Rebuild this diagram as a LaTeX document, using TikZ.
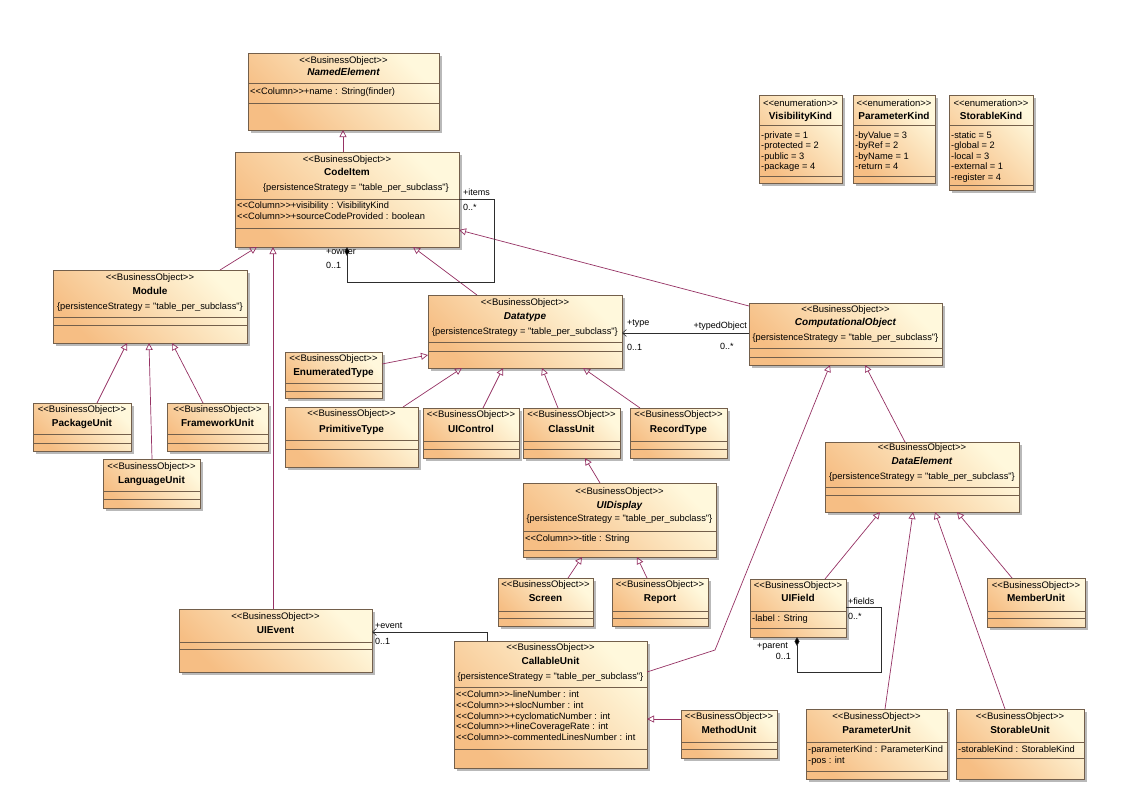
\documentclass[tikz,border=0pt]{standalone}
\usepackage{fontspec}
\setmainfont{Liberation Sans}[Ligatures=TeXOff]
\usetikzlibrary{arrows.meta}
\definecolor{boxL}{RGB}{246,190,132}
\definecolor{boxR}{RGB}{255,248,220}
\definecolor{bord}{RGB}{115,95,75}
\definecolor{shad}{RGB}{185,185,185}
\definecolor{genc}{RGB}{150,50,100}
\definecolor{assc}{RGB}{45,45,45}
\newcommand\BO{<<BusinessObject>>}
\newcommand\EN{<<enumeration>>}
\newcommand\PS{\{persistenceStrategy = "table\_per\_subclass"\}}
\newcommand\COL{<<Column>>}
\newcommand\cls[5]{%
  \fill[shad] ({#2+3},{#3+3}) rectangle ({#4+3},{#5+3});
  \pgfmathsetmacro\cx{(#2+#4)/2}%
  \pgfmathsetmacro\xl{#2+2}%
  \def\xa{#2}\def\xb{#4}%
  \node[clsbox, minimum width={(#4-#2)*1pt}, minimum height={(#5-#3)*1pt}] (#1) at (\cx,{(#3+#5)/2}) {};
}
\newcommand\sep[1]{\draw[sepl] (\xa,#1) -- (\xb,#1);}
\newcommand\ctext[4]{\node[#2] (#1) at (\cx,#3) {#4};}
\newcommand\ltext[3]{\node[attr] (#1) at (\xl,#2) {#3};}
\newcommand\hd[5]{% box, ys, yn, name, style
  \ctext{#1-s}{st}{#2}{\BO}\ctext{#1-n}{#5}{#3}{#4}}
\newcommand\at[3]{([xshift=#2pt,yshift=-#3pt]#1.north west)}
\begin{document}
\begin{tikzpicture}[x=1pt,y=-1pt,
  clsbox/.style={rectangle, draw=bord, line width=0.6pt, top color=boxR, bottom color=boxL, shading angle=-45, inner sep=0pt, outer sep=0pt},
  sepl/.style={draw=bord, line width=0.5pt},
  st/.style={font=\fontsize{9.5}{10}\selectfont, inner sep=0pt, anchor=mid},
  cst/.style={font=\fontsize{9.3}{10}\selectfont, inner sep=0pt, anchor=mid},
  nm/.style={font=\fontsize{10}{11}\selectfont\bfseries, inner sep=0pt, anchor=mid},
  nmi/.style={font=\fontsize{10}{11}\selectfont\bfseries\itshape, inner sep=0pt, anchor=mid},
  attr/.style={font=\fontsize{9.3}{10}\selectfont, inner sep=0pt, anchor=mid west},
  lab/.style={font=\fontsize{9}{10}\selectfont, inner sep=0pt, anchor=mid west},
  labr/.style={font=\fontsize{9}{10}\selectfont, inner sep=0pt, anchor=mid east},
  gen/.style={draw=genc, line width=0.7pt, -{Triangle[open, length=7pt, width=7pt]}},
  asc/.style={draw=assc, line width=0.6pt},
  nav/.style={-{Straight Barb[length=4pt, width=7pt]}},
  comp/.style={{Diamond[length=9pt, width=5pt, fill=black]}-}
]
\fill[white] (0,0) rectangle (1122,798);
\useasboundingbox (0,0) rectangle (1122,798);

% NamedElement
\cls{NamedElement}{248}{53}{439}{130}
\hd{NamedElement}{61}{73}{NamedElement}{nmi}
\sep{83}
\ltext{NamedElement-a1}{92}{\COL+name : String(finder)}
\sep{103}

% CodeItem
\cls{CodeItem}{235}{152}{459}{247}
\hd{CodeItem}{160}{173}{CodeItem}{nm}
\node[cst] (CodeItem-c) at (356,188) {\PS};
\sep{199}
\ltext{CodeItem-a1}{206}{\COL+visibility : VisibilityKind}
\ltext{CodeItem-a2}{217}{\COL+sourceCodeProvided : boolean}
\sep{228}

% Enumerations
\cls{VisibilityKind}{759}{95}{842}{183}
\ctext{VisibilityKind-s}{st}{104}{\EN}
\ctext{VisibilityKind-n}{nm}{117}{VisibilityKind}
\sep{125}
\ltext{VisibilityKind-a1}{136}{-private = 1}
\ltext{VisibilityKind-a2}{146}{-protected = 2}
\ltext{VisibilityKind-a3}{157}{-public = 3}
\ltext{VisibilityKind-a4}{167}{-package = 4}
\sep{176}

\cls{ParameterKind}{853}{95}{935}{183}
\ctext{ParameterKind-s}{st}{104}{\EN}
\ctext{ParameterKind-n}{nm}{117}{ParameterKind}
\sep{125}
\ltext{ParameterKind-a1}{136}{-byValue = 3}
\ltext{ParameterKind-a2}{146}{-byRef = 2}
\ltext{ParameterKind-a3}{157}{-byName = 1}
\ltext{ParameterKind-a4}{167}{-return = 4}
\sep{176}

\cls{StorableKind}{949}{95}{1033}{190}
\ctext{StorableKind-s}{st}{104}{\EN}
\ctext{StorableKind-n}{nm}{117}{StorableKind}
\sep{125}
\ltext{StorableKind-a1}{136}{-static = 5}
\ltext{StorableKind-a2}{146}{-global = 2}
\ltext{StorableKind-a3}{157}{-local = 3}
\ltext{StorableKind-a4}{167}{-external = 1}
\ltext{StorableKind-a5}{178}{-register = 4}
\sep{185}

% Module and children
\cls{Module}{53}{270}{247}{343}
\hd{Module}{278}{292}{Module}{nm}
\ctext{Module-c}{cst}{307}{\PS}
\sep{317}\sep{325}

\cls{PackageUnit}{33}{403}{131}{451}
\hd{PackageUnit}{410}{424}{PackageUnit}{nm}
\sep{434}\sep{443}

\cls{FrameworkUnit}{167}{403}{268}{451}
\hd{FrameworkUnit}{410}{424}{FrameworkUnit}{nm}
\sep{434}\sep{443}

\cls{LanguageUnit}{103}{459}{200}{508}
\hd{LanguageUnit}{467}{481}{LanguageUnit}{nm}
\sep{491}\sep{499}

% Datatype and children
\cls{Datatype}{428}{295}{622}{368}
\hd{Datatype}{303}{317}{Datatype}{nmi}
\ctext{Datatype-c}{cst}{332}{\PS}
\sep{342}\sep{351}

\cls{EnumeratedType}{285}{352}{382}{398}
\hd{EnumeratedType}{359}{373}{EnumeratedType}{nm}
\sep{383}\sep{391}

\cls{PrimitiveType}{285}{407}{418}{467}
\hd{PrimitiveType}{414}{430}{PrimitiveType}{nm}
\sep{440}\sep{449}

\cls{UIControl}{423}{408}{519}{458}
\hd{UIControl}{415}{430}{UIControl}{nm}
\sep{441}\sep{449}

\cls{ClassUnit}{523}{408}{620}{458}
\hd{ClassUnit}{415}{430}{ClassUnit}{nm}
\sep{441}\sep{449}

\cls{RecordType}{630}{408}{727}{458}
\hd{RecordType}{415}{430}{RecordType}{nm}
\sep{441}\sep{449}

% ComputationalObject
\cls{CompObject}{749}{303}{942}{365}
\hd{CompObject}{310}{323}{ComputationalObject}{nmi}
\ctext{CompObject-c}{cst}{338}{\PS}
\sep{348}\sep{357}

% UIDisplay
\cls{UIDisplay}{523}{483}{716}{557}
\hd{UIDisplay}{492}{506}{UIDisplay}{nmi}
\ctext{UIDisplay-c}{cst}{519}{\PS}
\sep{531}
\ltext{UIDisplay-a1}{539}{\COL-title : String}
\sep{550}

\cls{Screen}{498}{578}{593}{626}
\hd{Screen}{585}{599}{Screen}{nm}
\sep{611}\sep{618}

\cls{Report}{612}{578}{708}{626}
\hd{Report}{585}{599}{Report}{nm}
\sep{611}\sep{618}

% DataElement
\cls{DataElement}{825}{442}{1019}{512}
\hd{DataElement}{448}{462}{DataElement}{nmi}
\ctext{DataElement-c}{cst}{477}{\PS}
\sep{487}\sep{495}

\cls{UIField}{750}{579}{846}{637}
\hd{UIField}{586}{599}{UIField}{nm}
\sep{611}
\ltext{UIField-a1}{619}{-label : String}
\sep{628}

\cls{MemberUnit}{987}{578}{1085}{627}
\hd{MemberUnit}{586}{599}{MemberUnit}{nm}
\sep{611}\sep{618}

% UIEvent
\cls{UIEvent}{179}{609}{372}{672}
\hd{UIEvent}{617}{631}{UIEvent}{nm}
\sep{642}\sep{649}

% CallableUnit
\cls{CallableUnit}{454}{641}{647}{768}
\hd{CallableUnit}{648}{662}{CallableUnit}{nm}
\ctext{CallableUnit-c}{cst}{677}{\PS}
\sep{687}
\ltext{CallableUnit-a1}{695}{\COL-lineNumber : int}
\ltext{CallableUnit-a2}{706}{\COL+slocNumber : int}
\ltext{CallableUnit-a3}{717}{\COL+cyclomaticNumber : int}
\ltext{CallableUnit-a4}{727}{\COL+lineCoverageRate : int}
\ltext{CallableUnit-a5}{738}{\COL-commentedLinesNumber : int}
\sep{749}

\cls{MethodUnit}{681}{710}{777}{758}
\hd{MethodUnit}{717}{731}{MethodUnit}{nm}
\sep{742}\sep{749}

\cls{ParameterUnit}{806}{709}{947}{779}
\hd{ParameterUnit}{717}{731}{ParameterUnit}{nm}
\sep{742}
\ltext{ParameterUnit-a1}{750}{-parameterKind : ParameterKind}
\ltext{ParameterUnit-a2}{761}{-pos : int}
\sep{771}

\cls{StorableUnit}{956}{709}{1084}{779}
\hd{StorableUnit}{717}{731}{StorableUnit}{nm}
\sep{742}
\ltext{StorableUnit-a1}{750}{-storableKind : StorableKind}
\sep{758}

% ---------- generalizations ----------
\draw[gen] \at{CodeItem}{108}{0} -- \at{NamedElement}{95}{77};
\draw[gen] \at{Module}{167}{0} -- \at{CodeItem}{22}{95};
\draw[gen] \at{UIEvent}{94}{0} -- \at{CodeItem}{38}{95};
\draw[gen] \at{Datatype}{49}{0} -- \at{CodeItem}{178}{95};
\draw[gen] \at{CompObject}{0}{3} -- \at{CodeItem}{224}{78};
\draw[gen] \at{PackageUnit}{64}{0} -- \at{Module}{74}{73};
\draw[gen] \at{LanguageUnit}{49}{0} -- \at{Module}{96}{73};
\draw[gen] \at{FrameworkUnit}{36}{0} -- \at{Module}{119}{73};
\draw[gen] \at{EnumeratedType}{97}{12} -- \at{Datatype}{0}{60};
\draw[gen] \at{PrimitiveType}{118}{0} -- \at{Datatype}{34}{73};
\draw[gen] \at{UIControl}{60}{0} -- \at{Datatype}{75}{73};
\draw[gen] \at{ClassUnit}{35}{0} -- \at{Datatype}{114}{73};
\draw[gen] \at{RecordType}{10}{0} -- \at{Datatype}{155}{73};
\draw[gen] \at{UIDisplay}{77}{0} -- \at{ClassUnit}{62}{50};
\draw[gen] \at{Screen}{70}{0} -- \at{UIDisplay}{59}{74};
\draw[gen] \at{Report}{35}{0} -- \at{UIDisplay}{114}{74};
\coordinate (cuBend) at (715,650);
\draw[gen] \at{CallableUnit}{193}{31} -- (cuBend) -- \at{CompObject}{81}{62};
\draw[gen] \at{DataElement}{80}{0} -- \at{CompObject}{116}{62};
\draw[gen] \at{UIField}{75}{0} -- \at{DataElement}{55}{70};
\draw[gen] \at{ParameterUnit}{79}{0} -- \at{DataElement}{88}{70};
\draw[gen] \at{StorableUnit}{49}{0} -- \at{DataElement}{110}{70};
\draw[gen] \at{MemberUnit}{25}{0} -- \at{DataElement}{132}{70};
\draw[gen] \at{MethodUnit}{0}{9} -- \at{CallableUnit}{193}{78};

% ---------- associations ----------
\draw[asc, comp] \at{CodeItem}{112}{95} -- ++(0,35) -- ++(147,0) |- \at{CodeItem}{224}{47};
\draw[asc, nav] \at{CompObject}{0}{30} -- \at{Datatype}{194}{38};
\draw[asc, nav] \at{CallableUnit}{33}{0} |- \at{UIEvent}{193}{23};
\draw[asc, comp] \at{UIField}{47}{58} -- ++(0,35) -- ++(84,0) |- \at{UIField}{96}{28};

% ---------- association labels ----------
\node[lab] (lItems) at (463,193) {+items};
\node[lab] (lItemsM) at (463,208) {0..*};
\node[lab] (lOwner) at (326,252) {+owner};
\node[lab] (lOwnerM) at (326,266) {0..1};
\node[lab] (lType) at (627,323) {+type};
\node[lab] (lTypeM) at (627,348) {0..1};
\node[labr] (lTyped) at (747,326) {+typedObject};
\node[lab] (lTypedM) at (720,347) {0..*};
\node[lab] (lEvent) at (375,626) {+event};
\node[lab] (lEventM) at (375,642) {0..1};
\node[lab] (lFields) at (848,602) {+fields};
\node[lab] (lFieldsM) at (848,617) {0..*};
\node[labr] (lParent) at (788,646) {+parent};
\node[labr] (lParentM) at (791,657) {0..1};
\end{tikzpicture}
\end{document}
